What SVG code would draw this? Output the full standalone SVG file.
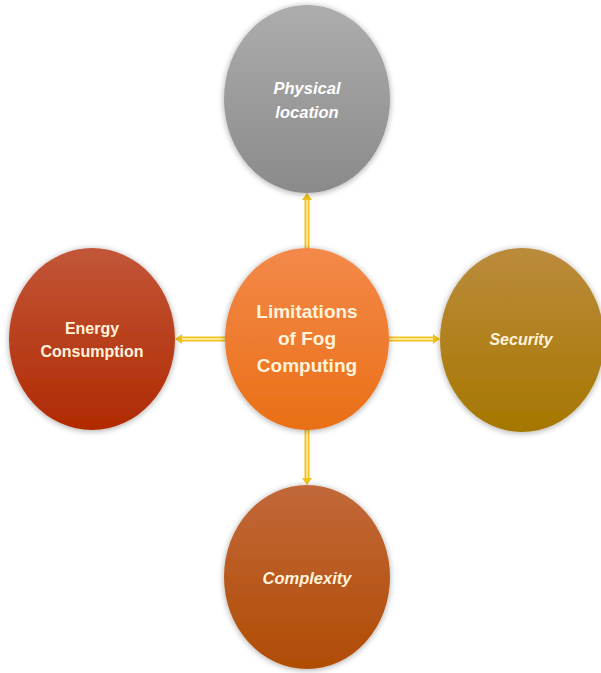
<svg xmlns="http://www.w3.org/2000/svg" width="601" height="673" viewBox="0 0 601 673">
<defs>
<linearGradient id="gGray" x1="0" y1="0" x2="0" y2="1"><stop offset="0" stop-color="#adadad"/><stop offset="1" stop-color="#8a8a8a"/></linearGradient>
<linearGradient id="gOrange" x1="0" y1="0" x2="0" y2="1"><stop offset="0" stop-color="#f3894a"/><stop offset="1" stop-color="#ea6f16"/></linearGradient>
<linearGradient id="gRed" x1="0" y1="0" x2="0" y2="1"><stop offset="0" stop-color="#c25638"/><stop offset="1" stop-color="#b02a02"/></linearGradient>
<linearGradient id="gGold" x1="0" y1="0" x2="0" y2="1"><stop offset="0" stop-color="#bb8b3c"/><stop offset="1" stop-color="#a67700"/></linearGradient>
<linearGradient id="gBrown" x1="0" y1="0" x2="0" y2="1"><stop offset="0" stop-color="#c2683a"/><stop offset="1" stop-color="#b04c04"/></linearGradient>
<filter id="sh" x="-20%" y="-20%" width="140%" height="140%"><feGaussianBlur in="SourceAlpha" stdDeviation="3"/><feOffset dx="0" dy="1"/><feComponentTransfer><feFuncA type="linear" slope="0.35"/></feComponentTransfer><feMerge><feMergeNode/><feMergeNode in="SourceGraphic"/></feMerge></filter>
</defs>
<style>
.lbl{font-family:"Liberation Sans",Arial,sans-serif;font-weight:bold;fill:#ffffff;text-anchor:middle}
.it{font-style:italic}
.cream{fill:#fff3dc}
.outer{stroke:#f2c21a;stroke-width:5;fill:none}
.inner{stroke:#fff4c0;stroke-width:1.4;fill:none}
.head{fill:#f2c21a}
</style>
<rect width="601" height="673" fill="#ffffff"/>
<g id="connectors">
<line class="outer" x1="307" y1="199" x2="307" y2="249"/><line class="inner" x1="307" y1="199" x2="307" y2="249"/>
<polygon class="head" points="302,200 312,200 307,193"/>
<line class="outer" x1="181" y1="339" x2="226" y2="339"/><line class="inner" x1="181" y1="339" x2="226" y2="339"/>
<polygon class="head" points="182,334 182,344 175,339"/>
<line class="outer" x1="389" y1="339" x2="434" y2="339"/><line class="inner" x1="389" y1="339" x2="434" y2="339"/>
<polygon class="head" points="433,334 433,344 440,339"/>
<line class="outer" x1="307" y1="429" x2="307" y2="479"/><line class="inner" x1="307" y1="429" x2="307" y2="479"/>
<polygon class="head" points="302,478 312,478 307,485"/>
</g>
<g id="node-physical"><ellipse cx="307" cy="99" rx="83" ry="94" fill="url(#gGray)" filter="url(#sh)"/>
<text class="lbl it" x="307" y="94" font-size="16.5">Physical</text><text class="lbl it" x="307" y="118" font-size="16.5">location</text></g>
<g id="node-center"><ellipse cx="307" cy="339" rx="82" ry="91" fill="url(#gOrange)" filter="url(#sh)"/>
<text class="lbl cream" x="307" y="318" font-size="19">Limitations</text><text class="lbl cream" x="307" y="345" font-size="19">of Fog</text><text class="lbl cream" x="307" y="372" font-size="19">Computing</text></g>
<g id="node-energy"><ellipse cx="92" cy="339" rx="83" ry="91" fill="url(#gRed)" filter="url(#sh)"/>
<text class="lbl cream" x="92" y="334" font-size="16">Energy</text><text class="lbl cream" x="92" y="357" font-size="16">Consumption</text></g>
<g id="node-security"><ellipse cx="522" cy="340" rx="82" ry="92" fill="url(#gGold)" filter="url(#sh)"/>
<text class="lbl it cream" x="521" y="345" font-size="16">Security</text></g>
<g id="node-complexity"><ellipse cx="307" cy="577" rx="83" ry="92" fill="url(#gBrown)" filter="url(#sh)"/>
<text class="lbl it cream" x="307" y="584" font-size="16.5">Complexity</text></g>
</svg>
